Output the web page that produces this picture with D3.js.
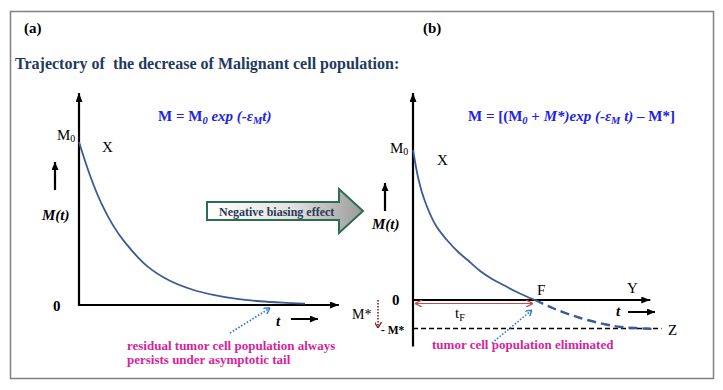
<!DOCTYPE html>
<html>
<head>
<meta charset="utf-8">
<script src="https://cdn.jsdelivr.net/npm/d3@7"></script>
<style>
body { margin: 0; background: #fff; }
svg text { font-family: "Liberation Serif", "Times New Roman", serif; white-space: pre; }
</style>
</head>
<body>
<script>
var width = 723;
var height = 390;

// panel (a): M(t) decays towards 0 (M0 = 1)
var tA = [0, 0.5, 1, 1.5, 2, 3, 4, 5, 6, 7, 8, 9, 10];
var mA = [1, 0.79, 0.62, 0.49, 0.39, 0.24, 0.15, 0.095, 0.06, 0.037, 0.023, 0.014, 0.008];

// panel (b): solid part down to F, then dashed tail towards -M*
var tB = [0, 0.25, 0.5, 1, 1.5, 2, 2.5, 3, 3.5, 4, 4.5, 5, 5.4];
var mB = [1, 0.8, 0.67, 0.5, 0.4, 0.32, 0.255, 0.19, 0.14, 0.1, 0.06, 0.025, 0];
var tBtail = [5.4, 6.2, 7.4, 8.6, 9.2, 10.6];
var mBtail = [0, -0.055, -0.12, -0.165, -0.18, -0.193];
var mStar = 0.19;
var tF = 5.4;

var svg = d3.select("body").append("svg")
  .attr("width", width)
  .attr("height", height);

var defs = svg.append("defs");

function marker(id, color, len, wid, open) {
  var m = defs.append("marker")
    .attr("id", id)
    .attr("markerUnits", "userSpaceOnUse")
    .attr("viewBox", "0 0 " + len + " " + wid)
    .attr("refX", len)
    .attr("refY", wid / 2)
    .attr("markerWidth", len)
    .attr("markerHeight", wid)
    .attr("orient", "auto-start-reverse");
  if (open) {
    m.append("path")
      .attr("d", "M0,0 L" + len + "," + wid / 2 + " L0," + wid)
      .attr("fill", "none")
      .attr("stroke", color)
      .attr("stroke-width", 1.3);
  } else {
    m.append("path")
      .attr("d", "M0,0 L" + len + "," + wid / 2 + " L0," + wid + " Z")
      .attr("fill", color);
  }
}
marker("arrowAxis", "#000", 9, 7, false);
marker("arrowSmall", "#000", 8, 7, false);
marker("arrowRed", "#c0504d", 7, 7, true);
marker("arrowBlue", "#1f78d1", 6, 7, true);
marker("arrowDark", "#8b1a1a", 6, 7, true);

var grad = defs.append("linearGradient").attr("id", "gradArrow");
grad.append("stop").attr("offset", "0%").attr("stop-color", "#ffffff");
grad.append("stop").attr("offset", "55%").attr("stop-color", "#e2e2e2");
grad.append("stop").attr("offset", "100%").attr("stop-color", "#9a9a9a");

//border
svg.append("rect")
  .attr("x", 10.5).attr("y", 11.5)
  .attr("width", 703).attr("height", 367)
  .attr("fill", "none")
  .attr("stroke", "#808080")
  .attr("stroke-width", 1.5);

svg.append("text").attr("x", 24).attr("y", 33)
  .attr("font-size", 15).attr("font-weight", "bold").text("(a)");
svg.append("text").attr("x", 423).attr("y", 33)
  .attr("font-size", 15).attr("font-weight", "bold").text("(b)");

svg.append("text")
  .attr("x", 15).attr("y", 69)
  .attr("font-size", 16).attr("font-weight", "bold")
  .attr("fill", "#1f3a60")
  .text("Trajectory of  the decrease of Malignant cell population:");

var xA = d3.scaleLinear().domain([0, 10]).range([79, 305]);
var yA = d3.scaleLinear().domain([0, 1]).range([305, 142]);
var xB = d3.scaleLinear().domain([0, 10]).range([413, 639]);
var yB = d3.scaleLinear().domain([0, 1]).range([300, 150]);

function axisLine(x1, y1, x2, y2, mk, w) {
  return svg.append("line")
    .attr("x1", x1).attr("y1", y1).attr("x2", x2).attr("y2", y2)
    .attr("stroke", "#000").attr("stroke-width", w || 2.2)
    .attr("marker-end", mk ? "url(#" + mk + ")" : null);
}

// ---- panel (a)
axisLine(xA(0), yA(0) + 1, xA(0), yA(1.3), "arrowAxis");
axisLine(xA(0) - 1, yA(0), xA(11.5), yA(0), "arrowAxis");

var lineA = d3.line()
  .x(function(d, i) { return xA(tA[i]); })
  .y(function(d) { return yA(d); })
  .curve(d3.curveCatmullRom.alpha(0.5));

svg.append("path")
  .datum(mA)
  .attr("d", lineA)
  .attr("fill", "none")
  .attr("stroke", "#3b5b93")
  .attr("stroke-width", 1.8);

svg.append("text").attr("x", 57).attr("y", 140).attr("font-size", 15)
  .text("M").append("tspan").attr("font-size", 10).attr("dy", 2).text("0");
svg.append("text").attr("x", 102).attr("y", 152).attr("font-size", 15).text("X");
axisLine(55, 190, 55, 162, "arrowSmall", 2.2);
svg.append("text").attr("x", 42).attr("y", 220).attr("font-size", 15)
  .attr("font-weight", "bold").attr("font-style", "italic").text("M(t)");
svg.append("text").attr("x", 53).attr("y", 311).attr("font-size", 15)
  .attr("font-weight", "bold").text("0");
svg.append("text").attr("x", 276).attr("y", 326).attr("font-size", 15)
  .attr("font-weight", "bold").attr("font-style", "italic").text("t");
axisLine(291, 319, 318, 319, "arrowSmall", 2);

var fa = svg.append("text").attr("x", 158).attr("y", 121)
  .attr("font-size", 15).attr("font-weight", "bold").attr("fill", "#2323e0");
fa.append("tspan").text("M = M");
fa.append("tspan").attr("font-size", 10.5).attr("font-style", "italic").attr("dy", 3).text("0");
fa.append("tspan").attr("font-style", "italic").attr("dy", -3).text(" exp (-\u03b5");
fa.append("tspan").attr("font-size", 10.5).attr("font-style", "italic").attr("dy", 3).text("M");
fa.append("tspan").attr("font-style", "italic").attr("dy", -3).text("t)");

svg.append("line")
  .attr("x1", 230).attr("y1", 333).attr("x2", 270).attr("y2", 308)
  .attr("stroke", "#1f78d1").attr("stroke-width", 1.6)
  .attr("stroke-dasharray", "1.5,1.8")
  .attr("marker-end", "url(#arrowBlue)");

svg.append("text").attr("x", 127).attr("y", 350)
  .attr("font-size", 13).attr("font-weight", "bold").attr("fill", "#d81f9c")
  .text("residual tumor cell population always");
svg.append("text").attr("x", 127).attr("y", 364)
  .attr("font-size", 13).attr("font-weight", "bold").attr("fill", "#d81f9c")
  .text("persists under asymptotic tail");

// big arrow in the middle
svg.append("path")
  .attr("d", "M207,202 L339,202 L339,189 L363,211 L339,233 L339,220 L207,220 Z")
  .attr("fill", "url(#gradArrow)")
  .attr("stroke", "#2e6e50")
  .attr("stroke-width", 2);
svg.append("text").attr("x", 219).attr("y", 216)
  .attr("font-size", 12).attr("font-weight", "bold").attr("fill", "#2b3a55")
  .text("Negative biasing effect");

// ---- panel (b)
axisLine(xB(0), yB(-0.31), xB(0), yB(1.38), "arrowAxis");
axisLine(xB(0) - 1, yB(0), xB(10.5), yB(0), "arrowAxis");

svg.append("line")
  .attr("x1", xB(0)).attr("x2", xB(11))
  .attr("y1", yB(-mStar)).attr("y2", yB(-mStar))
  .attr("stroke", "#000").attr("stroke-width", 1.6)
  .attr("stroke-dasharray", "5,3");

var lineB = d3.line()
  .x(function(d) { return xB(d[0]); })
  .y(function(d) { return yB(d[1]); })
  .curve(d3.curveCatmullRom.alpha(0.5));

svg.append("path")
  .datum(d3.zip(tB, mB))
  .attr("d", lineB)
  .attr("fill", "none")
  .attr("stroke", "#3b5b93")
  .attr("stroke-width", 1.8);

svg.append("path")
  .datum(d3.zip(tBtail, mBtail))
  .attr("d", lineB)
  .attr("fill", "none")
  .attr("stroke", "#3b5b93")
  .attr("stroke-width", 2.4)
  .attr("stroke-dasharray", "9,5");

// t_F span
svg.append("line")
  .attr("x1", xB(0) + 2).attr("x2", xB(tF) - 2)
  .attr("y1", yB(0) + 3.5).attr("y2", yB(0) + 3.5)
  .attr("stroke", "#c0504d").attr("stroke-width", 1.2)
  .attr("marker-start", "url(#arrowRed)")
  .attr("marker-end", "url(#arrowRed)");
svg.append("text").attr("x", 455).attr("y", 318).attr("font-size", 15)
  .text("t").append("tspan").attr("font-size", 10).attr("dy", 3).text("F");

svg.append("text").attr("x", 390).attr("y", 153).attr("font-size", 15)
  .text("M").append("tspan").attr("font-size", 10).attr("dy", 2).text("0");
svg.append("text").attr("x", 437).attr("y", 165).attr("font-size", 15).text("X");
axisLine(385, 211, 385, 183, "arrowSmall", 2.2);
svg.append("text").attr("x", 372).attr("y", 229).attr("font-size", 15)
  .attr("font-weight", "bold").attr("font-style", "italic").text("M(t)");
svg.append("text").attr("x", 392).attr("y", 305).attr("font-size", 15)
  .attr("font-weight", "bold").text("0");
svg.append("text").attr("x", xB(tF) + 2).attr("y", 295).attr("font-size", 15).text("F");
svg.append("text").attr("x", 627).attr("y", 293).attr("font-size", 15).text("Y");
svg.append("text").attr("x", 668).attr("y", 335).attr("font-size", 15).text("Z");
svg.append("text").attr("x", 616).attr("y", 316).attr("font-size", 15)
  .attr("font-weight", "bold").attr("font-style", "italic").text("t");
axisLine(628, 312, 655, 312, "arrowSmall", 2);

svg.append("text").attr("x", 352).attr("y", 319).attr("font-size", 14).text("M*");
svg.append("line")
  .attr("x1", 378).attr("y1", 300).attr("x2", 378).attr("y2", 328)
  .attr("stroke", "#8b1a1a").attr("stroke-width", 1.6)
  .attr("stroke-dasharray", "1.5,1.5")
  .attr("marker-end", "url(#arrowDark)");
svg.append("text").attr("x", 381).attr("y", 334).attr("font-size", 11.5)
  .attr("font-weight", "bold").text("- M*");

var fb = svg.append("text").attr("x", 468).attr("y", 121)
  .attr("font-size", 15).attr("font-weight", "bold").attr("fill", "#2323e0");
fb.append("tspan").text("M = [(M");
fb.append("tspan").attr("font-size", 10.5).attr("font-style", "italic").attr("dy", 3).text("0");
fb.append("tspan").attr("dy", -3).text(" + ");
fb.append("tspan").attr("font-style", "italic").text("M*)exp (-\u03b5");
fb.append("tspan").attr("font-size", 10.5).attr("font-style", "italic").attr("dy", 3).text("M");
fb.append("tspan").attr("font-style", "italic").attr("dy", -3).text(" t)");
fb.append("tspan").text(" \u2013 M*]");

svg.append("line")
  .attr("x1", 492).attr("y1", 343).attr("x2", 532).attr("y2", 310)
  .attr("stroke", "#1f78d1").attr("stroke-width", 1.6)
  .attr("stroke-dasharray", "1.5,1.8")
  .attr("marker-end", "url(#arrowBlue)");

svg.append("text").attr("x", 432).attr("y", 349)
  .attr("font-size", 13).attr("font-weight", "bold").attr("fill", "#d81f9c")
  .text("tumor cell population eliminated");
</script>
</body>
</html>
